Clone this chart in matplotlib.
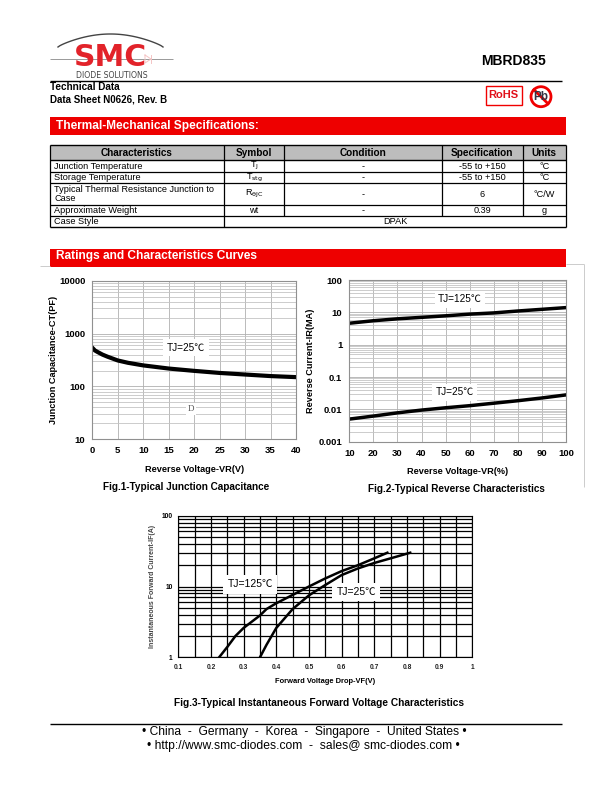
import numpy as np
import matplotlib
matplotlib.use('Agg')
import matplotlib.pyplot as plt
from matplotlib.patches import Rectangle, Circle
from matplotlib.ticker import NullFormatter, FixedLocator, FixedFormatter

W, H = 612, 792
plt.rcParams['font.family'] = ['Liberation Sans', 'Noto Sans CJK SC', 'DejaVu Sans']

# table
table_header = ['Characteristics', 'Symbol', 'Condition', 'Specification', 'Units']
table_rows = [
    ['Junction Temperature', 'T$_{\\mathrm{J}}$', '-', '-55 to +150', '°C'],
    ['Storage Temperature', 'T$_{\\mathrm{stg}}$', '-', '-55 to +150', '°C'],
    ['Typical Thermal Resistance Junction to\nCase', 'R$_{\\mathrm{\\theta JC}}$', '-', '6', '°C/W'],
    ['Approximate Weight', 'wt', '-', '0.39', 'g'],
]
case_label = 'Case Style'
case_value = 'DPAK'

# fig 1
vr1 = [0, 0.5, 1, 2, 3, 5, 7, 10, 15, 20, 25, 30, 35, 40]
ct = [540, 480, 450, 400, 365, 310, 280, 250, 218, 197, 180, 168, 157, 150]
v1_ticks = [0, 5, 10, 15, 20, 25, 30, 35, 40]

# fig 2
vr2 = [10, 20, 30, 40, 50, 60, 70, 80, 90, 100]
ir_125 = [4.6, 5.5, 6.3, 7.0, 7.8, 8.8, 9.6, 11.0, 12.4, 14.0]
ir_25 = [0.005, 0.0062, 0.0078, 0.0095, 0.0112, 0.013, 0.0155, 0.0185, 0.0225, 0.028]
v2_ticks = [10, 20, 30, 40, 50, 60, 70, 80, 90, 100]

# fig 3
vf_125 = [0.225, 0.25, 0.275, 0.30, 0.35, 0.37, 0.40, 0.45, 0.50, 0.55, 0.60, 0.65, 0.70, 0.74]
if_125 = [1.0, 1.4, 2.0, 2.6, 3.9, 4.8, 5.8, 7.6, 10.0, 13.0, 16.5, 20.0, 25.0, 30.0]
vf_25 = [0.35, 0.37, 0.40, 0.45, 0.50, 0.55, 0.60, 0.65, 0.70, 0.75, 0.81]
if_25 = [1.0, 1.5, 2.6, 4.8, 7.5, 10.5, 14.5, 18.0, 21.5, 25.0, 30.0]
v3_ticks = [0.1, 0.2, 0.3, 0.4, 0.5, 0.6, 0.7, 0.8, 0.9, 1]
v3_labels = ['0.1', '0.2', '0.3', '0.4', '0.5', '0.6', '0.7', '0.8', '0.9', '1']

fig = plt.figure(figsize=(W / 100, H / 100), dpi=100)

# page layer in pixel coordinates
pg = fig.add_axes([0, 0, 1, 1], zorder=0)
pg.set_xlim(0, W)
pg.set_ylim(H, 0)
pg.axis('off')


def axes_px(x0, y0, x1, y1):
    return fig.add_axes([x0 / W, 1 - y1 / H, (x1 - x0) / W, (y1 - y0) / H], zorder=2)


def hline(y, x0, x1, lw=1.0, c='black'):
    pg.plot([x0, x1], [y, y], color=c, lw=lw, solid_capstyle='butt')


def vline(x, y0, y1, lw=1.0, c='black'):
    pg.plot([x, x], [y0, y1], color=c, lw=lw, solid_capstyle='butt')


# logo
t = np.linspace(0, 1, 60)
pg.plot(58 + (163 - 58) * t, 47 - 13 * np.sin(np.pi * t) ** 0.8, color='#444444', lw=1.0)
hline(59, 50, 173, lw=0.7, c='#999999')
pg.text(110.5, 57.5, 'SMC', color='#e2232a', fontsize=21.5, fontweight='bold', ha='center', va='center',
        fontfamily='DejaVu Sans', zorder=3)
pg.plot([145, 145, 151, 145], [55, 63, 59, 55], color='#f4c4c4', lw=0.7, zorder=4)
pg.plot([151, 151], [55, 63], color='#f4c4c4', lw=0.7, zorder=4)
pg.text(112, 75.5, 'DIODE SOLUTIONS', color='#444444', fontsize=5.6, ha='center', va='center',
        fontfamily='DejaVu Sans')

pg.text(546, 61, 'MBRD835', fontsize=10, fontweight='bold', ha='right', va='center')
hline(80.5, 50, 562, lw=1.0)
pg.text(50.5, 87, 'Technical Data', fontsize=7.2, fontweight='bold', va='center')
pg.text(50.5, 99, 'Data Sheet N0626, Rev. B', fontsize=7.0, fontweight='bold', va='center')

# RoHS and Pb marks
pg.add_patch(Rectangle((486, 86), 35.5, 19, fc='white', ec='#f00000', lw=1.0))
pg.text(503.5, 95.5, 'RoHS', color='#e0101a', fontsize=8, fontweight='bold', ha='center', va='center')
pg.text(541, 97, 'Pb', color='#333344', fontsize=8.5, fontweight='bold', ha='center', va='center')
pg.add_patch(Circle((541, 96.7), 10, fc='none', ec='#f00000', lw=2))
pg.plot([534, 548], [89.7, 103.7], color='#f00000', lw=2)

# section bars
pg.add_patch(Rectangle((50, 117), 516, 18, fc='#ee0000', ec='none'))
pg.text(55.5, 126.5, 'Thermal-Mechanical Specifications:', color='white', fontsize=8.55, fontweight='bold', va='center')
pg.add_patch(Rectangle((50, 249), 516, 18, fc='#ee0000', ec='none'))
pg.text(55.5, 255.5, 'Ratings and Characteristics Curves', color='white', fontsize=8.6, fontweight='bold', va='center')

# faint frame behind the curves
hline(265.5, 40, 50, lw=0.7, c='#cccccc')
hline(263.5, 566, 583.5, lw=0.7, c='#cccccc')
vline(583.5, 263.5, 487, lw=0.7, c='#cccccc')

# table
col_x = [50, 224, 284, 442, 522.5, 566]
row_y = [160.3, 172.3, 183.3, 205.3, 216.3, 227.3]
pg.add_patch(Rectangle((col_x[0], 144.7), col_x[-1] - col_x[0], 15.6, fc='#bdbdbd', ec='none'))
for i, lab in enumerate(table_header):
    pg.text((col_x[i] + col_x[i + 1]) / 2, 152.7, lab, fontsize=7.2, fontweight='bold', ha='center', va='center')
for y in [144.7, 160.3, 227.3]:
    hline(y, col_x[0], col_x[-1], lw=1.0)
for i, row in enumerate(table_rows):
    yc = (row_y[i] + row_y[i + 1]) / 2
    pg.text(54.5, yc, row[0], fontsize=6.6, va='center', linespacing=1.05)
    for j in range(1, 5):
        pg.text((col_x[j] + col_x[j + 1]) / 2, yc, row[j], fontsize=6.6, ha='center', va='center')
    hline(row_y[i + 1], col_x[0], col_x[-1], lw=0.9)
pg.text(54.5, 222, case_label, fontsize=6.6, va='center')
pg.text(395, 222, case_value, fontsize=6.6, ha='center', va='center')
for x in col_x:
    vline(x, 144.7, 216.3 if x not in (50, 224, 566) else 227.3, lw=0.9)


def grid_style(ax, major, minor_c, lw=0.6):
    ax.grid(True, which='major', color=major, lw=lw)
    ax.grid(True, which='minor', axis='y', color=minor_c, lw=lw)
    ax.set_axisbelow(True)
    ax.tick_params(which='both', length=0)
    ax.yaxis.set_minor_formatter(NullFormatter())


# fig 1
ax1 = axes_px(92.3, 280.7, 296, 439.3)
ax1.semilogy(vr1, ct, color='black', lw=3.0)
ax1.set_xlim(0, 40)
ax1.set_ylim(10, 10000)
ax1.set_xticks(v1_ticks)
ax1.set_yticks([10, 100, 1000, 10000], ['10', '100', '1000', '10000'])
ax1.yaxis.set_minor_locator(FixedLocator([m * d for d in (10, 100, 1000) for m in range(2, 10)]))
grid_style(ax1, '#b0b0b0', '#c4c4c4')
ax1.tick_params(labelsize=6.8, pad=5)
for s in ax1.spines.values():
    s.set_color('#909090')
for lab in ax1.get_xticklabels() + ax1.get_yticklabels():
    lab.set_fontweight('bold')
ax1.set_xlabel('Reverse Voltage-VR(V)', fontsize=6.6, fontweight='bold', labelpad=7)
ax1.set_ylabel('Junction Capacitance-CT(PF)', fontsize=6.6, fontweight='bold', labelpad=1)
ax1.text(18.4, 535, 'TJ=25℃', fontsize=7.2, ha='center', va='center',
         bbox=dict(fc='white', ec='none', pad=2.5))
ax1.text(19.4, 37, 'D', fontsize=6.5, ha='center', va='center', color='#555555', fontfamily='Liberation Serif',
         bbox=dict(fc='white', ec='none', pad=1.5))
pg.text(186.5, 487.5, 'Fig.1-Typical Junction Capacitance', fontsize=7.2, fontweight='bold', ha='center', va='center')

# fig 2
ax2 = axes_px(349.3, 280, 566, 441.7)
ax2.semilogy(vr2, ir_125, color='black', lw=2.5)
ax2.semilogy(vr2, ir_25, color='black', lw=2.5)
ax2.set_xlim(10, 100)
ax2.set_ylim(0.001, 100)
ax2.set_xticks(v2_ticks)
ax2.set_yticks([0.001, 0.01, 0.1, 1, 10, 100], ['0.001', '0.01', '0.1', '1', '10', '100'])
ax2.yaxis.set_minor_locator(FixedLocator([m * d for d in (0.001, 0.01, 0.1, 1, 10) for m in range(2, 10)]))
grid_style(ax2, '#b0b0b0', '#c4c4c4')
ax2.tick_params(labelsize=6.8, pad=5)
for s in ax2.spines.values():
    s.set_color('#909090')
for lab in ax2.get_xticklabels() + ax2.get_yticklabels():
    lab.set_fontweight('bold')
ax2.set_xlabel('Reverse Voltage-VR(%)', fontsize=6.6, fontweight='bold', labelpad=7)
ax2.set_ylabel('Reverse Current-IR(MA)', fontsize=6.6, fontweight='bold', labelpad=2.5)
ax2.text(56, 25, 'TJ=125℃', fontsize=7.2, ha='center', va='center', bbox=dict(fc='white', ec='none', pad=2.5))
ax2.text(53.7, 0.034, 'TJ=25℃', fontsize=7.2, ha='center', va='center', bbox=dict(fc='white', ec='none', pad=2.5))
pg.text(456, 489.5, 'Fig.2-Typical Reverse Characteristics', fontsize=7.2, fontweight='bold', ha='center', va='center')

# fig 3
ax3 = axes_px(178.3, 515.7, 472.3, 657.3)
ax3.semilogy(vf_125, if_125, color='black', lw=1.8)
ax3.semilogy(vf_25, if_25, color='black', lw=1.8)
ax3.set_xlim(0.1, 1)
ax3.set_ylim(1, 100)
ax3.xaxis.set_major_locator(FixedLocator(np.arange(0.1, 1.01, 0.05)))
ax3.xaxis.set_major_formatter(FixedFormatter([]))
ax3.set_yticks([1, 10, 100], ['1', '10', '100'])
ax3.yaxis.set_minor_locator(FixedLocator([m * d for d in (1, 10) for m in range(2, 10)]))
grid_style(ax3, 'black', 'black', lw=0.9)
for s in ax3.spines.values():
    s.set_color('black')
ax3.tick_params(labelsize=4.8, pad=4)
for lab in ax3.get_yticklabels():
    lab.set_fontweight('bold')
for v, lab in zip(v3_ticks, v3_labels):
    ax3.annotate(lab, (v, 0), xycoords=('data', 'axes fraction'), xytext=(0, -4.5), textcoords='offset points',
                 fontsize=4.8, fontweight='bold', ha='center', va='top', color='#222222')
ax3.set_xlabel('Forward Voltage Drop-VF(V)', fontsize=5.4, fontweight='bold', labelpad=11)
ax3.set_ylabel('Instantaneous Forward Current-IF(A)', fontsize=5.05, color='#444444', fontweight='bold', labelpad=4)
ax3.text(0.32, 10.7, 'TJ=125℃', fontsize=7.5, ha='center', va='center', bbox=dict(fc='white', ec='none', pad=3))
ax3.text(0.645, 8.3, 'TJ=25℃', fontsize=7.5, ha='center', va='center', bbox=dict(fc='white', ec='none', pad=3))
pg.text(319.5, 702.5, 'Fig.3-Typical Instantaneous Forward Voltage Characteristics', fontsize=7.25, fontweight='bold',
        ha='center', va='center')

# footer
hline(723.5, 50, 562, lw=1.0)
pg.text(304.5, 731.5, '• China  -  Germany  -  Korea  -  Singapore  -  United States •', fontsize=8.65, ha='center', va='center')
pg.text(303, 746.5, '• http://www.smc-diodes.com  -  sales@ smc-diodes.com •', fontsize=8.7, ha='center', va='center')

fig.savefig('out.png', dpi=100)
